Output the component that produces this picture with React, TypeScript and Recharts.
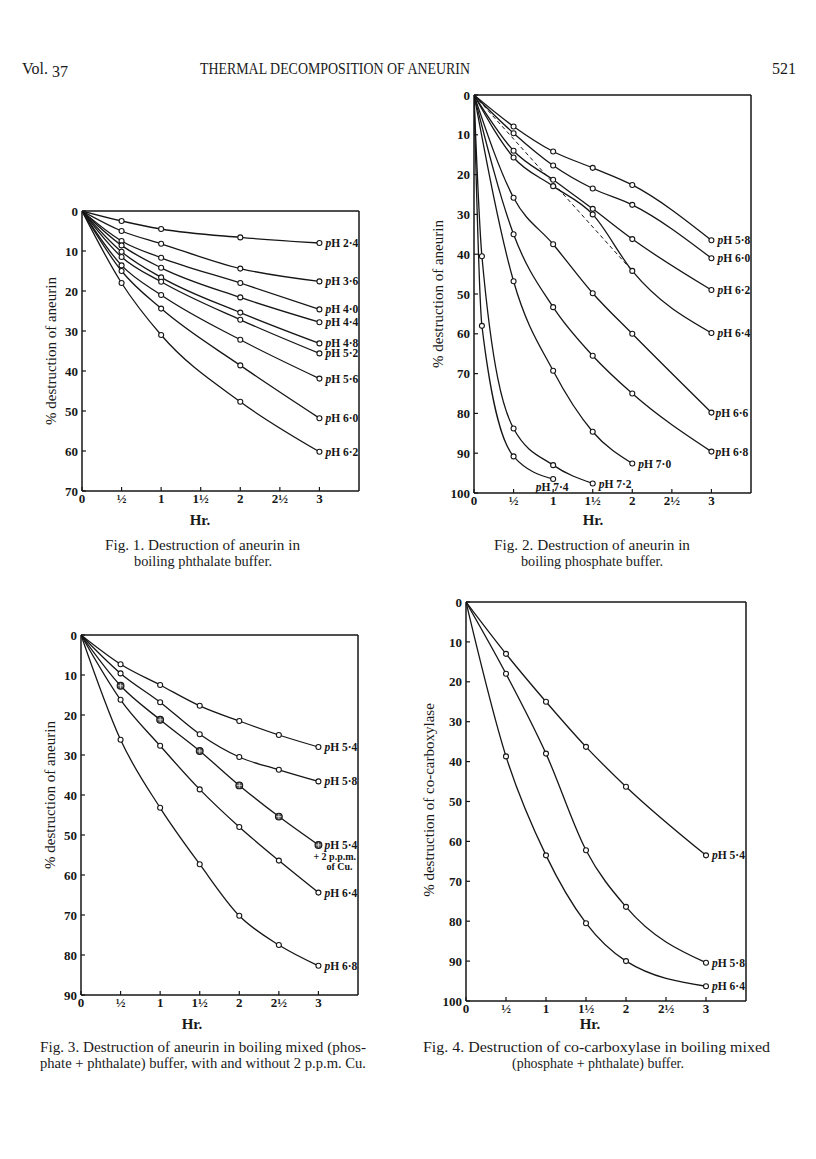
import React from 'react'
import { LineChart, Line, XAxis, YAxis } from 'recharts'

const SERIF = '"Liberation Serif", "DejaVu Serif", serif'
const INK = '#161616'

const hourTicks = [0, 0.5, 1, 1.5, 2, 2.5, 3]
const hourLabels = ['0', '½', '1', '1½', '2', '2½', '3']

// Fig. 1 – phthalate buffer
const fig1Hours = [0, 0.5, 1, 2, 3]
const fig1pH24 = [0, 2.5, 4.5, 6.6, 8]
const fig1pH36 = [0, 5, 8.2, 14.4, 17.6]
const fig1pH40 = [0, 7.5, 11.7, 18, 24.6]
const fig1pH44 = [0, 8.6, 14.2, 21.6, 27.8]
const fig1pH48 = [0, 10.2, 16.6, 25.4, 33.1]
const fig1pH52 = [0, 11.5, 17.7, 27.2, 35.6]
const fig1pH56 = [0, 13.6, 21, 32.2, 41.9]
const fig1pH60 = [0, 15, 24.4, 38.6, 51.8]
const fig1pH62 = [0, 18, 31, 47.7, 60.2]

// Fig. 2 – phosphate buffer
const fig2Hours = [0, 0.5, 1, 1.5, 2, 3]
const fig2HoursTo2 = [0, 0.5, 1, 1.5, 2]
const fig2HoursFast72 = [0, 0.1, 0.5, 1, 1.5]
const fig2HoursFast74 = [0, 0.1, 0.5, 1]
const fig2DashHours = [0, 2]
const fig2pH58 = [0, 7.9, 14.2, 18.3, 22.6, 36.5]
const fig2pH60 = [0, 9.6, 17.7, 23.5, 27.6, 41]
const fig2pH62 = [0, 14, 21.3, 28.6, 36.2, 49]
const fig2pH64 = [0, 15.7, 22.9, 30, 44.2, 59.8]
const fig2Dash = [0, 44.2]
const fig2pH66 = [0, 25.8, 37.5, 49.8, 60, 79.8]
const fig2pH68 = [0, 35, 53.3, 65.5, 75, 89.6]
const fig2pH70 = [0, 46.8, 69.3, 84.6, 92.6]
const fig2pH72 = [0, 40.5, 83.8, 93, 97.6]
const fig2pH74 = [0, 58, 90.8, 96.5]

// Fig. 3 – mixed buffer, with and without Cu
const fig3Hours = [0, 0.5, 1, 1.5, 2, 2.5, 3]
const fig3pH54 = [0, 7.3, 12.5, 17.7, 21.5, 25, 28]
const fig3pH58 = [0, 9.6, 16.8, 24.8, 30.5, 33.7, 36.6]
const fig3pH54Cu = [0, 12.7, 21.2, 29, 37.6, 45.4, 52.5]
const fig3pH64 = [0, 16.2, 27.7, 38.6, 48, 56.4, 64.4]
const fig3pH68 = [0, 26.2, 43.2, 57.3, 70.2, 77.5, 82.7]

// Fig. 4 – co-carboxylase
const fig4Hours = [0, 0.5, 1, 1.5, 2, 3]
const fig4pH54 = [0, 13, 25, 36.3, 46.3, 63.5]
const fig4pH58 = [0, 18, 38, 62.2, 76.4, 90.4]
const fig4pH64 = [0, 38.7, 63.5, 80.5, 90, 96.3]

type Series = {
  key: string
  hours: number[]
  values: number[]
  label?: string
  dashed?: boolean
  cu?: boolean
  linear?: boolean
  lx?: number
  ly?: number
  anchor?: 'start' | 'middle' | 'end'
  note?: string[]
}

const fig1Series: Series[] = [
  { key: 'a', hours: fig1Hours, values: fig1pH24, label: '2·4' },
  { key: 'b', hours: fig1Hours, values: fig1pH36, label: '3·6' },
  { key: 'c', hours: fig1Hours, values: fig1pH40, label: '4·0' },
  { key: 'd', hours: fig1Hours, values: fig1pH44, label: '4·4' },
  { key: 'e', hours: fig1Hours, values: fig1pH48, label: '4·8' },
  { key: 'f', hours: fig1Hours, values: fig1pH52, label: '5·2' },
  { key: 'g', hours: fig1Hours, values: fig1pH56, label: '5·6' },
  { key: 'h', hours: fig1Hours, values: fig1pH60, label: '6·0' },
  { key: 'i', hours: fig1Hours, values: fig1pH62, label: '6·2' },
]

const fig2Series: Series[] = [
  { key: 'a', hours: fig2Hours, values: fig2pH58, label: '5·8' },
  { key: 'b', hours: fig2Hours, values: fig2pH60, label: '6·0' },
  { key: 'c', hours: fig2Hours, values: fig2pH62, label: '6·2' },
  { key: 'd', hours: fig2Hours, values: fig2pH64, label: '6·4' },
  { key: 'x', hours: fig2DashHours, values: fig2Dash, dashed: true, linear: true },
  { key: 'e', hours: fig2Hours, values: fig2pH66, label: '6·6', lx: 4 },
  { key: 'f', hours: fig2Hours, values: fig2pH68, label: '6·8', lx: 4 },
  { key: 'g', hours: fig2HoursTo2, values: fig2pH70, label: '7·0' },
  { key: 'h', hours: fig2HoursFast72, values: fig2pH72, label: '7·2', ly: 5 },
  { key: 'i', hours: fig2HoursFast74, values: fig2pH74, label: '7·4', lx: -1, ly: 12, anchor: 'middle' },
]

const fig3Series: Series[] = [
  { key: 'a', hours: fig3Hours, values: fig3pH54, label: '5·4' },
  { key: 'b', hours: fig3Hours, values: fig3pH58, label: '5·8' },
  { key: 'c', hours: fig3Hours, values: fig3pH54Cu, label: '5·4', cu: true, note: ['+ 2 p.p.m.', 'of Cu.'] },
  { key: 'd', hours: fig3Hours, values: fig3pH64, label: '6·4' },
  { key: 'e', hours: fig3Hours, values: fig3pH68, label: '6·8' },
]

const fig4Series: Series[] = [
  { key: 'a', hours: fig4Hours, values: fig4pH54, label: '5·4' },
  { key: 'b', hours: fig4Hours, values: fig4pH58, label: '5·8' },
  { key: 'c', hours: fig4Hours, values: fig4pH64, label: '6·4' },
]

const fmtHour = (v: number) => hourLabels[hourTicks.indexOf(v)] ?? String(v)

const makeDot = (s: Series) => (p: any) => {
  const { cx, cy, index } = p
  const k = `${s.key}-${index}`
  if (index === 0 || s.dashed || cx == null) return <g key={k} />
  const last = index === s.hours.length - 1
  return (
    <g key={k}>
      {s.cu ? (
        <g>
          <circle cx={cx} cy={cy} r={3.4} fill="#555" stroke={INK} strokeWidth={1.1} />
          <line x1={cx - 2.4} x2={cx + 2.4} y1={cy} y2={cy} stroke="#eee" strokeWidth={0.8} />
          <line x1={cx} x2={cx} y1={cy - 2.4} y2={cy + 2.4} stroke="#eee" strokeWidth={0.8} />
        </g>
      ) : (
        <circle cx={cx} cy={cy} r={2.5} fill="#fff" stroke={INK} strokeWidth={1.1} />
      )}
      {last && s.label && (
        <text
          x={cx + (s.lx ?? 6)}
          y={cy + (s.ly ?? 4)}
          textAnchor={s.anchor ?? 'start'}
          fontFamily={SERIF}
          fontSize={11.5}
          fontWeight="bold"
          fill={INK}
        >
          <tspan fontStyle="italic">p</tspan>H {s.label}
        </text>
      )}
      {last &&
        s.note &&
        s.note.map((n, i) => (
          <text
            key={n}
            x={cx + (i === 0 ? -5 : 8)}
            y={cy + 15 + i * 10}
            fontFamily={SERIF}
            fontSize={10}
            fontWeight="bold"
            fill={INK}
          >
            {n}
          </text>
        ))}
    </g>
  )
}

function Panel({ box, yMax, series }: { box: number[]; yMax: number; series: Series[] }) {
  const [px, py, pw, ph] = box
  const LEFT = 40
  const TOP = 10
  const BOTTOM = 30
  const RIGHT = 10
  const W = LEFT + pw + 1 + RIGHT
  const H = TOP + 1 + ph + BOTTOM
  const yTicks: number[] = []
  for (let v = 0; v <= yMax; v += 10) yTicks.push(v)
  const tickFont = { fontFamily: SERIF, fontSize: 13, fontWeight: 'bold', fill: INK }
  const axisLine = { stroke: INK, strokeWidth: 1.5 }
  const tickLine = { stroke: INK, strokeWidth: 1.2 }

  return (
    <div style={{ position: 'absolute', left: px - LEFT, top: py - TOP - 1 }}>
      <LineChart width={W} height={H} margin={{ top: TOP, right: RIGHT, left: 0, bottom: 0 }}>
        <XAxis
          xAxisId="b"
          type="number"
          dataKey="t"
          domain={[0, 3.5]}
          ticks={hourTicks}
          tickFormatter={fmtHour}
          height={BOTTOM}
          tickSize={-4}
          tickMargin={7}
          axisLine={axisLine}
          tickLine={tickLine}
          tick={tickFont}
          allowDataOverflow
        />
        <XAxis
          xAxisId="t"
          orientation="top"
          type="number"
          domain={[0, 3.5]}
          ticks={hourTicks}
          height={1}
          tickSize={-4}
          tick={false}
          axisLine={axisLine}
          tickLine={tickLine}
          allowDataOverflow
        />
        <YAxis
          yAxisId="l"
          type="number"
          domain={[0, yMax]}
          reversed
          ticks={yTicks}
          width={LEFT}
          tickSize={-4}
          tickMargin={8}
          axisLine={axisLine}
          tickLine={tickLine}
          tick={tickFont}
          allowDataOverflow
        />
        <YAxis
          yAxisId="r"
          orientation="right"
          type="number"
          domain={[0, yMax]}
          reversed
          ticks={yTicks}
          width={1}
          tickSize={-4}
          tick={false}
          axisLine={axisLine}
          tickLine={tickLine}
          allowDataOverflow
        />
        {series.map((s) => (
          <Line
            key={s.key}
            xAxisId="b"
            yAxisId="l"
            data={s.hours.map((t, i) => ({ t, v: s.values[i] }))}
            dataKey="v"
            type={s.linear ? 'linear' : 'monotone'}
            stroke={INK}
            strokeWidth={s.dashed ? 1 : 1.3}
            strokeDasharray={s.dashed ? '4 3' : undefined}
            dot={makeDot(s)}
            activeDot={false}
            isAnimationActive={false}
          />
        ))}
      </LineChart>
    </div>
  )
}

const textBase = { fontFamily: SERIF, fill: '#1a1a1a' }

function YLabel({ x, y, text }: { x: number; y: number; text: string }) {
  return (
    <text x={x} y={y} transform={`rotate(-90 ${x} ${y})`} textAnchor="middle" fontSize={15} {...textBase}>
      {text}
    </text>
  )
}

function Caption({ x, y, w, text, anchor }: { x: number; y: number; w: number; text: string; anchor?: 'start' | 'middle' }) {
  return (
    <text
      x={x}
      y={y}
      textAnchor={anchor ?? 'start'}
      fontSize={14.5}
      textLength={w}
      lengthAdjust="spacingAndGlyphs"
      {...textBase}
    >
      {text}
    </text>
  )
}

export default function App() {
  return (
    <div style={{ position: 'absolute', left: 0, top: 0, width: 816, height: 1159, background: '#fff', overflow: 'hidden' }}>
      <Panel box={[82, 211, 277, 280]} yMax={70} series={fig1Series} />
      <Panel box={[474, 95, 277, 398]} yMax={100} series={fig2Series} />
      <Panel box={[81, 635, 277, 360]} yMax={90} series={fig3Series} />
      <Panel box={[466, 602, 280, 399]} yMax={100} series={fig4Series} />
      <svg width={816} height={1159} style={{ position: 'absolute', left: 0, top: 0, pointerEvents: 'none' }}>
        <text x={22} y={74} fontSize={16} {...textBase}>
          Vol.<tspan dx={4} dy={3}>37</tspan>
        </text>
        <text x={200} y={74} fontSize={16} textLength={270} lengthAdjust="spacingAndGlyphs" {...textBase}>
          THERMAL DECOMPOSITION OF ANEURIN
        </text>
        <text x={772} y={74} fontSize={16} {...textBase}>
          521
        </text>

        <YLabel x={56} y={351} text="% destruction of aneurin" />
        <YLabel x={443} y={294} text="% destruction of aneurin" />
        <YLabel x={55} y={795} text="% destruction of aneurin" />
        <YLabel x={434} y={800} text="% destruction of co-carboxylase" />

        <text x={200} y={525} textAnchor="middle" fontSize={15} fontWeight="bold" {...textBase}>Hr.</text>
        <text x={593} y={525} textAnchor="middle" fontSize={15} fontWeight="bold" {...textBase}>Hr.</text>
        <text x={192} y={1029} textAnchor="middle" fontSize={15} fontWeight="bold" {...textBase}>Hr.</text>
        <text x={590} y={1029} textAnchor="middle" fontSize={15} fontWeight="bold" {...textBase}>Hr.</text>

        <Caption x={105} y={550} w={195} text="Fig. 1.  Destruction of aneurin in" />
        <Caption x={203} y={566} w={138} anchor="middle" text="boiling phthalate buffer." />
        <Caption x={494} y={550} w={196} text="Fig. 2.  Destruction of aneurin in" />
        <Caption x={592} y={566} w={142} anchor="middle" text="boiling phosphate buffer." />

        <Caption x={40} y={1052} w={326} text="Fig. 3.  Destruction of aneurin in boiling mixed (phos-" />
        <Caption x={40} y={1068} w={326} text="phate + phthalate) buffer, with and without 2 p.p.m. Cu." />
        <Caption x={423} y={1052} w={347} text="Fig. 4.  Destruction of co-carboxylase in boiling mixed" />
        <Caption x={598} y={1068} w={172} anchor="middle" text="(phosphate + phthalate) buffer." />
      </svg>
    </div>
  )
}
